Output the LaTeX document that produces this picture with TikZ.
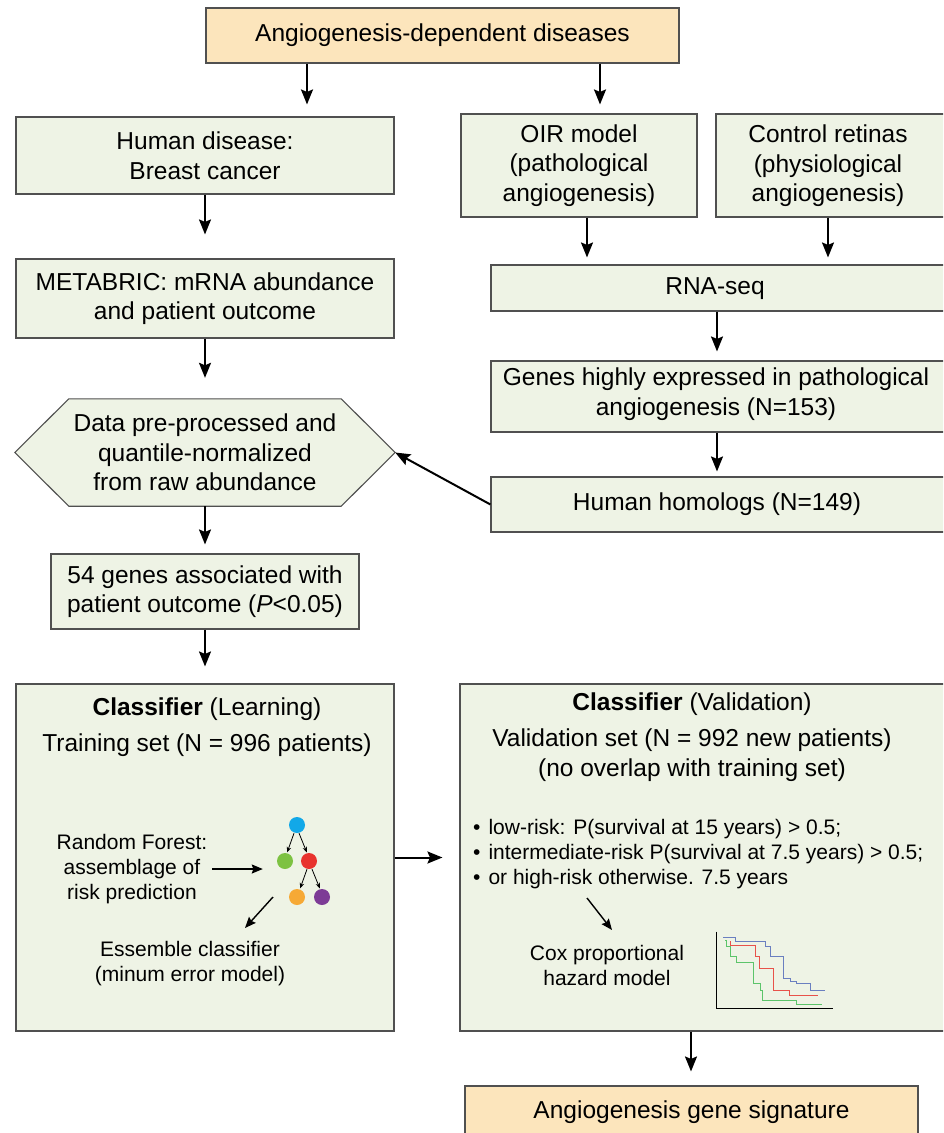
\documentclass[tikz,border=0pt]{standalone}
\usepackage{fontspec}
\setmainfont{Liberation Sans}
\usetikzlibrary{arrows.meta,backgrounds}
\definecolor{gfill}{HTML}{EEF3E5}
\definecolor{ofill}{HTML}{FCE5BC}
\definecolor{bord}{HTML}{505050}
\definecolor{tblue}{HTML}{12A8E8}
\definecolor{tgreen}{HTML}{7DC242}
\definecolor{tred}{HTML}{E8332E}
\definecolor{torange}{HTML}{F6A935}
\definecolor{tpurple}{HTML}{7D3B96}
\definecolor{kblue}{HTML}{6A7FC0}
\definecolor{kred}{HTML}{E8524A}
\definecolor{kgreen}{HTML}{5CC46A}
\newcommand{\bigbul}{\textbullet\hspace{8pt}}
\begin{document}
\begin{tikzpicture}[x=1pt,y=-1pt,
  gbox/.style={draw=bord, line width=1.1pt, fill=gfill, align=center, inner sep=0pt},
  obox/.style={gbox, fill=ofill},
  big/.style={font=\fontsize{24.5}{29.5}\selectfont},
  small/.style={font=\fontsize{21}{25}\selectfont},
  txt/.style={inner sep=2pt, align=center},
  arr/.style={line width=2pt, -{Stealth[length=15pt,width=12pt,inset=2.5pt]}},
  sarr/.style={line width=1.4pt, -{Stealth[length=11pt,width=9pt,inset=1.5pt]}},
  tarr/.style={line width=0.8pt, -{Stealth[length=5.5pt,width=4.5pt]}},
  dot/.style={circle, minimum size=16pt, inner sep=0pt, draw=none},
]
\useasboundingbox (0,0) rectangle (943,1133);
\clip (0,0) rectangle (943,1133);

% ---- left column
\node[obox, big, minimum width=473pt, minimum height=55pt] (top) at (442.5,35.5) {Angiogenesis-dependent diseases};
\node[gbox, big, minimum width=378pt, minimum height=77pt] (human) at (205,155.5) {Human disease:\\Breast cancer};
\node[gbox, big, minimum width=378pt, minimum height=79pt] (metab) at (205,298.5) {METABRIC: mRNA abundance\\and patient outcome};
\node[big, align=center, inner sep=0pt, minimum width=380pt, minimum height=107pt] (hex) at (205,452.5) {Data pre-processed and\\quantile-normalized\\from raw abundance};
\begin{scope}[on background layer]
\fill[white] (0,0) rectangle (943,1133);
\draw[draw=bord, line width=1.1pt, fill=gfill] (hex.west) -- ([xshift=54pt]hex.north west) -- ([xshift=-54pt]hex.north east) -- (hex.east) -- ([xshift=-54pt]hex.south east) -- ([xshift=54pt]hex.south west) -- cycle;
\end{scope}
\node[gbox, big, minimum width=308pt, minimum height=75pt] (g54) at (205,591.5) {54 genes associated with\\patient outcome (\textit{P}<0.05)};
\node[gbox, minimum width=378pt, minimum height=347pt] (learn) at (205,857.5) {};

% ---- right column
\node[gbox, big, minimum width=236pt, minimum height=103pt] (oir) at (579,165.5) {OIR model\\(pathological\\angiogenesis)};
\node[gbox, minimum width=239pt, minimum height=103pt] (ctrl) at (835.5,165.5) {};
\node[txt, big] (ctrlT) at (828,166) {Control retinas\\(physiological\\angiogenesis)};
\node[gbox, minimum width=464pt, minimum height=46pt] (rna) at (723,288) {};
\node[txt, big] (rnaT) at (715,289) {RNA-seq};
\node[gbox, minimum width=464pt, minimum height=71pt] (genes) at (723,396.5) {};
\node[txt, big] (genesT) at (716,394) {Genes highly expressed in pathological\\angiogenesis (N=153)};
\node[gbox, minimum width=464pt, minimum height=55pt] (homol) at (723,504.5) {};
\node[txt, big] (homolT) at (717,504) {Human homologs (N=149)};
\node[gbox, minimum width=500pt, minimum height=347pt] (valid) at (710,857.5) {};
\node[obox, minimum width=453pt, minimum height=64pt] (sig) at (691.5,1118) {};
\node[txt, big] (sigT) at (691.5,1112) {Angiogenesis gene signature};

% ---- main connectors
\draw[arr, shorten >=12pt] ([xshift=-135.5pt]top.south) -- ([xshift=102pt]human.north);
\draw[arr, shorten >=9pt] ([xshift=157.5pt]top.south) -- ([xshift=21pt]oir.north);
\draw[arr, shorten >=24pt] (human.south) -- (metab.north);
\draw[arr, shorten >=21pt] (metab.south) -- (hex.north);
\draw[arr, shorten >=9pt] (hex.south) -- (g54.north);
\draw[arr, shorten >=17pt] (g54.south) -- (learn.north);
\draw[arr, shorten >=7pt] ([xshift=8pt]oir.south) -- ([xshift=-136pt]rna.north);
\draw[arr, shorten >=7pt] ([xshift=-7.5pt]ctrl.south) -- ([xshift=105pt]rna.north);
\draw[arr, shorten >=9pt] ([xshift=-6pt]rna.south) -- ([xshift=-6pt]genes.north);
\draw[arr, shorten >=5pt] ([xshift=-6pt]genes.south) -- ([xshift=-6pt]homol.north);
\draw[arr] (homol.west) -- (hex.east);
\draw[arr, shorten >=17pt] (learn.east) -- (valid.west);
\draw[arr, shorten >=14pt] ([xshift=-19pt]valid.south) -- ([xshift=-0.5pt]sig.north);

% ---- learning box content
\node[txt, big] (lt1) at (207,709) {\textbf{Classifier} (Learning)};
\node[txt, big] (lt2) at (207,745) {Training set (N = 996 patients)};
\node[txt, small] (rf) at (132,869) {Random Forest:\\assemblage of\\risk prediction};
\node[dot, fill=tblue] (tb) at (297,825) {};
\node[dot, fill=tgreen] (tg) at (285,861) {};
\node[dot, fill=tred] (tr) at (309,861) {};
\node[dot, fill=torange] (to) at (297,897) {};
\node[dot, fill=tpurple] (tp) at (322,897) {};
\draw[tarr, shorten >=0.5pt] ([xshift=-3pt]tb.south) -- ([xshift=2pt]tg.north);
\draw[tarr, shorten >=0.5pt] ([xshift=2pt]tb.south) -- ([xshift=-2pt]tr.north);
\draw[tarr, shorten >=0.5pt] ([xshift=-2pt]tr.south) -- ([xshift=3pt]to.north);
\draw[tarr, shorten >=0.5pt] ([xshift=3pt]tr.south) -- ([xshift=-2pt]tp.north);
\draw[sarr, shorten <=3pt, shorten >=14pt] (rf.east) -- (rf.east -| tg.west);
\coordinate (e1) at (273,897);
\coordinate (e2) at (245,928);
\draw[sarr] (e1) -- (e2);
\node[txt, small] (ess) at (190,963.5) {Essemble classifier\\(minum error model)};

% ---- validation box content
\node[txt, big] (vt1) at (692,704) {\textbf{Classifier} (Validation)};
\node[txt, big] (vt2) at (692,740) {Validation set (N = 992 new patients)};
\node[txt, big] (vt3) at (692,770) {(no overlap with training set)};
\node[txt, small, align=left, anchor=west] (bul) at (471,854) {\bigbul low-risk: P(survival at 15 years) > 0.5;\\\bigbul intermediate-risk P(survival at 7.5 years) > 0.5;\\\bigbul or high-risk otherwise. 7.5 years};
\coordinate (c1) at (587,898);
\coordinate (c2) at (612,930);
\draw[sarr] (c1) -- (c2);
\node[txt, small] (cox) at (607,965.5) {Cox proportional\\hazard model};

% ---- Kaplan-Meier sketch
\begin{scope}[shift={(460,810)}, scale=1/3]
\draw[line width=1pt, black] (770,365) -- (770,595) -- (1118,595);
\draw[line width=1pt, kblue] (790,382) -- (825,382) -- (825,393) -- (915,393) -- (915,408) -- (930,408) -- (930,438) -- (970,438) -- (970,505) -- (990,505) -- (990,515) -- (1010,515) -- (1010,520) -- (1050,520) -- (1050,540) -- (1095,540);
\draw[line width=1pt, kred] (812,393) -- (812,407) -- (885,407) -- (885,440) -- (898,440) -- (898,475) -- (940,475) -- (940,540) -- (988,540) -- (988,555) -- (1075,555);
\draw[line width=1pt, kgreen] (795,390) -- (800,390) -- (800,410) -- (812,410) -- (812,440) -- (828,440) -- (828,457) -- (880,457) -- (880,520) -- (900,520) -- (900,540) -- (908,540) -- (908,572) -- (1008,572) -- (1008,583) -- (1085,583);
\end{scope}
\end{tikzpicture}
\end{document}
